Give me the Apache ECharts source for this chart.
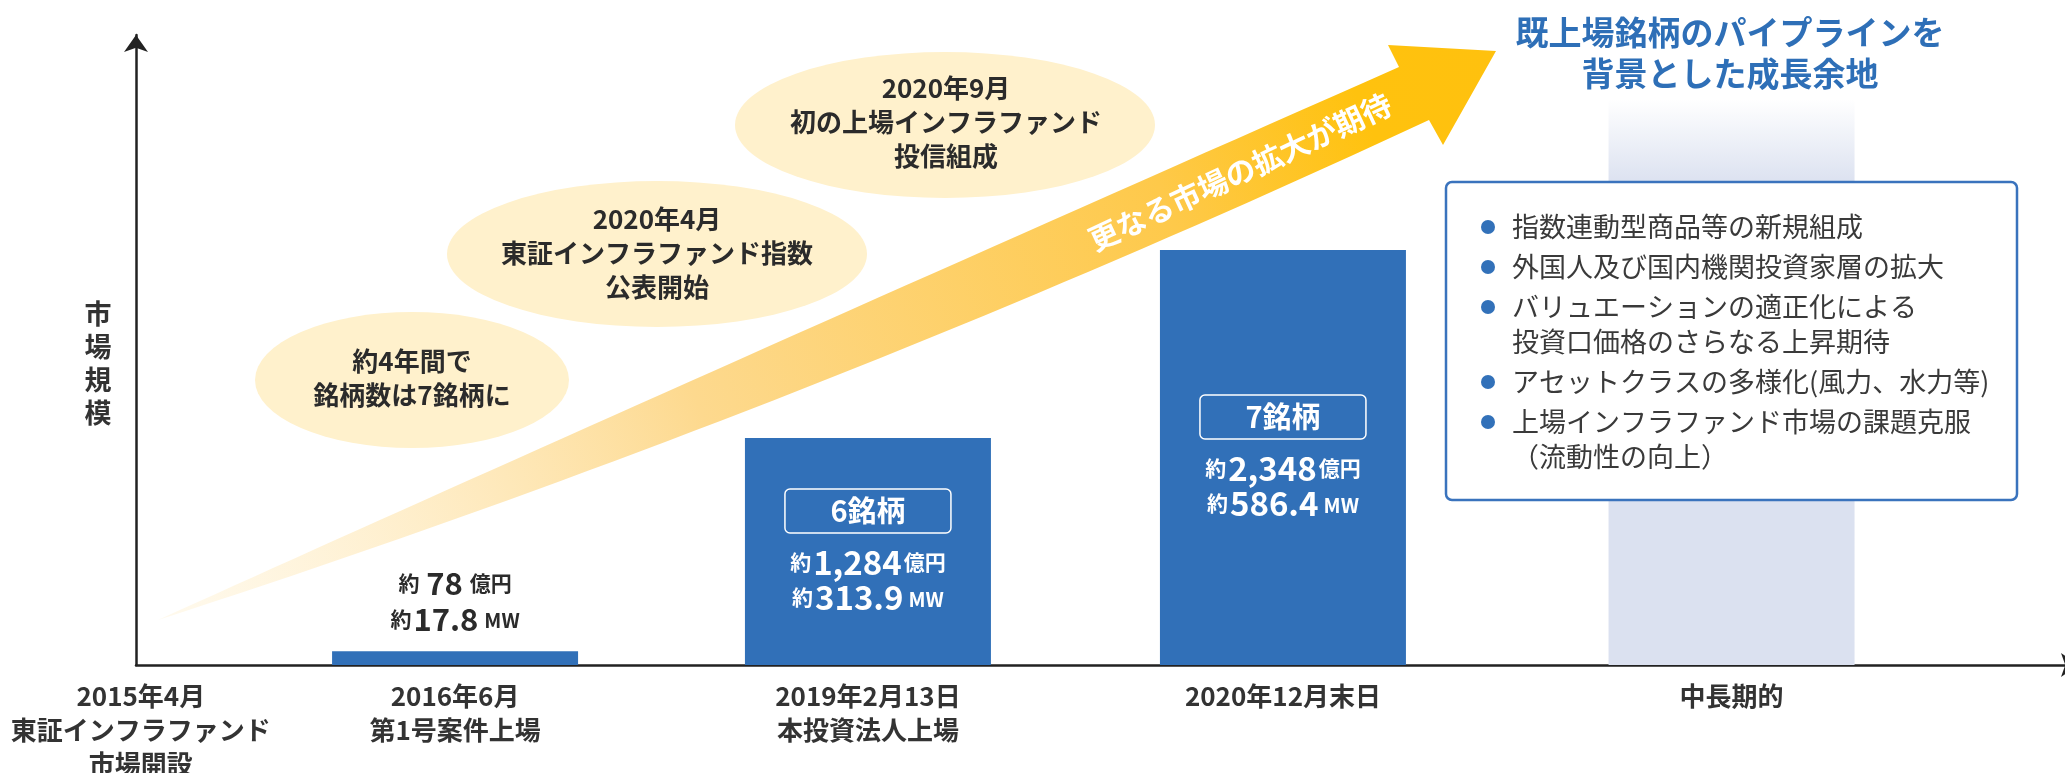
<!DOCTYPE html>
<html>
<head>
<meta charset="utf-8">
<script src="https://cdn.jsdelivr.net/npm/echarts@6/dist/echarts.min.js"></script>
<style>
  html, body { margin: 0; padding: 0; background: #ffffff; }
  #chart { width: 2065px; height: 773px; }
</style>
</head>
<body>
<div id="chart"></div>
<script>
// ---- data -------------------------------------------------------------
// Timeline milestones shown under the horizontal axis
const milestones = [
  '2015年4月\n東証インフラファンド\n市場開設',
  '2016年6月\n第1号案件上場',
  '2019年2月13日\n本投資法人上場',
  '2020年12月末日',
  '中長期的'
];
// Market size at each listed milestone (億円), generation capacity (MW), number of listed funds
const marketSizeOku = [78, 1284, 2348];
const capacityMW = [17.8, 313.9, 586.4];
const fundCount = [null, 6, 7];
// Open-ended band drawn for the long-term outlook
const outlookLevel = 3200;

// Milestone bubbles
const events = [
  '約4年間で\n銘柄数は7銘柄に',
  '2020年4月\n東証インフラファンド指数\n公表開始',
  '2020年9月\n初の上場インフラファンド\n投信組成'
];
const axisTitle = '市\n場\n規\n模';
const growthTitle = '既上場銘柄のパイプラインを\n背景とした成長余地';
const trendText = '更なる市場の拡大が期待';
const growthPoints = [
  ['指数連動型商品等の新規組成'],
  ['外国人及び国内機関投資家層の拡大'],
  ['バリュエーションの適正化による', '投資口価格のさらなる上昇期待'],
  ['アセットクラスの多様化(風力、水力等)'],
  ['上場インフラファンド市場の課題克服', '（流動性の向上）']
];

// ---- layout -----------------------------------------------------------
const FONT = '"Noto Sans CJK JP", "Noto Sans", sans-serif';
const slotX = [0.25, 16.43, 37.69, 59.06, 82.16];   // position of each milestone on the timeline axis
const yMax = 3564;
const BLUE = '#3170b8';
const INK = '#2b2b2b';

const chart = echarts.init(document.getElementById('chart'), null, { renderer: 'canvas' });

function fmt(n) { return n.toLocaleString('en-US'); }

const darkRich = {
  p: { fontFamily: FONT, fontSize: 21, fontWeight: 'bold', color: INK, lineHeight: 36 },
  n: { fontFamily: FONT, fontSize: 31, fontWeight: 'bold', color: INK, lineHeight: 36, padding: [0, 2] },
  u: { fontFamily: FONT, fontSize: 21, fontWeight: 'bold', color: INK, lineHeight: 36 },
  m: { fontFamily: FONT, fontSize: 20, fontWeight: 'bold', color: INK, lineHeight: 36, padding: [3, 0, 0, 4] }
};
const lightRich = {
  box: { fontFamily: FONT, fontSize: 29, fontWeight: 'bold', color: '#ffffff', width: 166, height: 44,
         lineHeight: 46, align: 'center', borderColor: '#ffffff', borderWidth: 1.5, borderRadius: 5 },
  gap: { fontSize: 2, lineHeight: 11 },
  p: { fontFamily: FONT, fontSize: 21, fontWeight: 'bold', color: '#ffffff', lineHeight: 35 },
  n: { fontFamily: FONT, fontSize: 33, fontWeight: 'bold', color: '#ffffff', lineHeight: 35, padding: [0, 2] },
  u: { fontFamily: FONT, fontSize: 21, fontWeight: 'bold', color: '#ffffff', lineHeight: 35 },
  m: { fontFamily: FONT, fontSize: 20, fontWeight: 'bold', color: '#ffffff', lineHeight: 35, padding: [3, 0, 0, 3] }
};

const barData = marketSizeOku.map(function (v, i) {
  const x = slotX[i + 1];
  if (fundCount[i] == null) {
    return {
      value: [x, v],
      label: {
        show: true, position: 'top', distance: 14, rich: darkRich,
        formatter: '{p|約 }{n|' + fmt(v) + '}{u| 億円}\n{p|約}{n|' + capacityMW[i] + '}{m|MW}'
      }
    };
  }
  return {
    value: [x, v],
    label: {
      show: true, position: 'inside', rich: lightRich,
      formatter: '{box|' + fundCount[i] + '銘柄}\n{gap| }\n{p|約}{n|' + fmt(v) + '}{u|億円}\n{p|約}{n|' + capacityMW[i] + '}{m|MW}'
    }
  };
});
barData.push({
  value: [slotX[4], outlookLevel],
  itemStyle: {
    color: new echarts.graphic.LinearGradient(0, 0, 0, 1, [
      { offset: 0, color: 'rgba(219,225,240,0)' },
      { offset: 0.15, color: '#dbe1f0' },
      { offset: 1, color: '#dbe1f0' }
    ])
  },
  label: { show: false }
});

// ---- decorative trend arrow -------------------------------------------
function quadPts(a, c, b, n) {
  const pts = [];
  for (let i = 0; i <= n; i++) {
    const t = i / n, u = 1 - t;
    pts.push([u * u * a[0] + 2 * u * t * c[0] + t * t * b[0],
              u * u * a[1] + 2 * u * t * c[1] + t * t * b[1]]);
  }
  return pts;
}
const tail = [158, 620];
const arrowPts = quadPts(tail, [600, 420], [1399, 67], 48)
  .concat([[1388, 45], [1496, 51], [1443, 145]])
  .concat(quadPts([1429, 120], [806, 410], tail, 48));

function textEl(text, x, y, font, color, lineHeight, extra) {
  return Object.assign({
    type: 'text', x: x, y: y, z: 20,
    style: { text: text, font: font, fill: color, textAlign: 'center', textVerticalAlign: 'middle',
             align: 'center', verticalAlign: 'middle', lineHeight: lineHeight }
  }, extra || {});
}
function ellipseEl(cx, cy, rx, ry) {
  return { type: 'circle', x: cx, y: cy, scaleX: rx / ry, z: 15,
           shape: { cx: 0, cy: 0, r: ry }, style: { fill: '#fff1cc' } };
}

const graphics = [];
// vertical axis title
graphics.push(textEl(axisTitle, 98, 363, 'bold 27px ' + FONT, '#333333', 33));
// bubbles
graphics.push(ellipseEl(412, 380, 157, 68));
graphics.push(textEl(events[0], 412, 378, 'bold 26px ' + FONT, INK, 34));
graphics.push(ellipseEl(657, 254, 210, 73));
graphics.push(textEl(events[1], 657, 253, 'bold 26px ' + FONT, INK, 34));
graphics.push(ellipseEl(945, 125, 210, 73));
graphics.push(textEl(events[2], 946, 122, 'bold 26px ' + FONT, INK, 34));
// arrow
graphics.push({
  type: 'polygon', z: 16, shape: { points: arrowPts },
  style: {
    fill: new echarts.graphic.LinearGradient(158, 620, 1496, 51, [
      { offset: 0, color: 'rgba(255,240,205,0.35)' },
      { offset: 0.4, color: '#fdd98e' },
      { offset: 0.75, color: '#fec94a' },
      { offset: 0.9, color: '#ffc20e' },
      { offset: 1, color: '#ffc10e' }
    ], true)
  }
});
graphics.push(textEl(trendText, 1240, 172, 'bold 30px ' + FONT, '#ffffff', 34,
  { rotation: 25 * Math.PI / 180, z: 21 }));
// outlook title
graphics.push(textEl(growthTitle, 1730, 53, 'bold 33px ' + FONT, '#2e6fb7', 41));
// outlook box
graphics.push({
  type: 'rect', z: 18,
  shape: { x: 1446, y: 182, width: 571, height: 318, r: 6 },
  style: { fill: '#ffffff', stroke: '#3a73bd', lineWidth: 2.5 }
});
let ly = 227;
growthPoints.forEach(function (lines) {
  graphics.push({ type: 'circle', z: 20, shape: { cx: 1488, cy: ly, r: 7 }, style: { fill: '#3271b9' } });
  lines.forEach(function (t, k) {
    graphics.push({
      type: 'text', x: 1512, y: ly, z: 20,
      style: { text: t, font: '27px ' + FONT, fill: '#3a3a3a', textAlign: 'left', textVerticalAlign: 'middle',
               align: 'left', verticalAlign: 'middle' }
    });
    if (k < lines.length - 1) ly += 35;
  });
  ly += 40;
});

const option = {
  backgroundColor: '#ffffff',
  animation: false,
  grid: { left: 136, top: 35, bottom: 108, width: 1942, outerBoundsMode: 'none', containLabel: false },
  xAxis: {
    type: 'value', min: 0, max: 100,
    splitLine: { show: false },
    axisTick: { show: false },
    axisLine: { show: true, onZero: false, symbol: ['none', 'arrow'], symbolSize: [18, 17],
                lineStyle: { color: '#222222', width: 2.5 } },
    axisLabel: {
      customValues: slotX, showMinLabel: true, showMaxLabel: true, hideOverlap: false,
      margin: 14, fontFamily: FONT, fontSize: 26, fontWeight: 'bold', color: '#333333', lineHeight: 34,
      formatter: function (v) {
        let best = 0;
        slotX.forEach(function (s, i) { if (Math.abs(s - v) < Math.abs(slotX[best] - v)) best = i; });
        return milestones[best];
      }
    }
  },
  yAxis: {
    type: 'value', min: 0, max: yMax,
    splitLine: { show: false },
    axisTick: { show: false },
    axisLabel: { show: false },
    axisLine: { show: true, onZero: false, symbol: ['none', 'arrow'], symbolSize: [18, 17],
                lineStyle: { color: '#222222', width: 2.5 } }
  },
  series: [{
    type: 'bar',
    barWidth: 246,
    itemStyle: { color: BLUE },
    data: barData,
    z: 2
  }],
  graphic: { elements: graphics }
};

chart.setOption(option);
</script>
</body>
</html>
